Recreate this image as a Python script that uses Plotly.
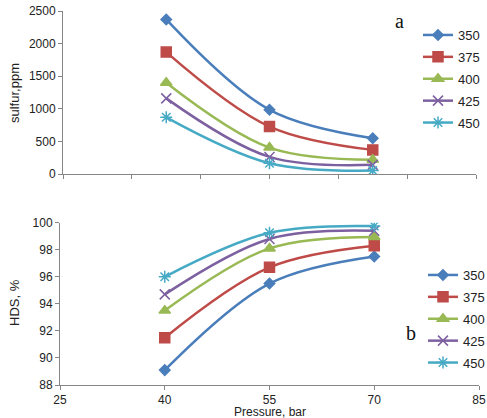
import plotly.graph_objects as go

pressure = [40, 55, 70]
temps = ["350", "375", "400", "425", "450"]
sulfur = {
    "350": [2370, 985, 550],
    "375": [1870, 728, 370],
    "400": [1400, 405, 218],
    "425": [1160, 262, 140],
    "450": [870, 166, 52],
}
hds = {
    "350": [89.1, 95.5, 97.5],
    "375": [91.5, 96.7, 98.3],
    "400": [93.5, 98.1, 98.95],
    "425": [94.7, 98.8, 99.4],
    "450": [96.0, 99.25, 99.75],
}
colors = ["#4A7EBB", "#BE4B48", "#98B954", "#7D60A0", "#46AAC5"]
symbols = ["diamond", "square", "triangle-up", "x-thin", "asterisk-open"]
msizes = [8, 10, 10, 10, 10]

fig = go.Figure()
for i, t in enumerate(temps):
    mk = dict(symbol=symbols[i], size=msizes[i], color=colors[i],
              line=dict(color=colors[i], width=1.5))
    fig.add_trace(go.Scatter(x=pressure, y=sulfur[t], name=t, mode="lines+markers",
                             line=dict(color=colors[i], width=2.5, shape="spline"),
                             marker=mk, xaxis="x", yaxis="y", legend="legend",
                             legendgroup="a" + t))
for i, t in enumerate(temps):
    mk = dict(symbol=symbols[i], size=msizes[i], color=colors[i],
              line=dict(color=colors[i], width=1.5))
    fig.add_trace(go.Scatter(x=pressure, y=hds[t], name=t, mode="lines+markers",
                             line=dict(color=colors[i], width=2.5, shape="spline"),
                             marker=mk, xaxis="x2", yaxis="y2", legend="legend2",
                             legendgroup="b" + t))

W, H = 487, 418
axcol = "#868686"
tickfont = dict(family="Liberation Sans, Arial", size=12, color="#222")
common = dict(ticks="outside", ticklen=4, tickcolor=axcol, showline=True, linecolor=axcol,
              showgrid=False, zeroline=False, automargin=False)
legfont = dict(family="Liberation Sans, Arial", size=13, color="#222")

fig.update_layout(
    template="none",
    width=W, height=H,
    margin=dict(l=0, r=0, t=0, b=0, autoexpand=False),
    paper_bgcolor="white", plot_bgcolor="white",
    xaxis=dict(domain=[63 / W, 476 / W], range=[25, 85], dtick=10, tick0=25,
               showticklabels=False, anchor="y", **common),
    yaxis=dict(domain=[1 - 174 / H, 1 - 11 / H], range=[0, 2500], dtick=500,
               tickfont=tickfont, anchor="x", **common),
    xaxis2=dict(domain=[60 / W, 479 / W], range=[25, 85], dtick=15, tick0=25,
                tickfont=tickfont, anchor="y2", ticklabelstandoff=0, **common),
    yaxis2=dict(domain=[1 - 385 / H, 1 - 222.7 / H], range=[88, 100], dtick=2,
                tickfont=tickfont, anchor="x2", **common),
    legend=dict(x=418 / W, y=1 - 20 / H, xanchor="left", yanchor="top",
                bgcolor="rgba(0,0,0,0)", font=legfont, tracegroupgap=2),
    legend2=dict(x=423 / W, y=1 - 260 / H, xanchor="left", yanchor="top",
                 bgcolor="rgba(0,0,0,0)", font=legfont, tracegroupgap=2),
    showlegend=True,
)

annfont = dict(family="Liberation Sans, Arial", size=13, color="#222")
ann = dict(xref="paper", yref="paper", showarrow=False, xanchor="center", yanchor="middle")
fig.add_annotation(text="sulfur,ppm", x=14 / W, y=1 - 93 / H, textangle=-90, font=annfont, **ann)
fig.add_annotation(text="HDS, %", x=14 / W, y=1 - 303 / H, textangle=-90, font=annfont, **ann)
fig.add_annotation(text="Pressure, bar", x=270 / W, y=1 - 411.5 / H,
                   font=dict(family="Liberation Sans, Arial", size=12, color="#222"), **ann)
serif = dict(family="Liberation Serif, Times New Roman", size=20, color="#111")
fig.add_annotation(text="a", x=399 / W, y=1 - 21 / H, font=serif, **ann)
fig.add_annotation(text="b", x=411 / W, y=1 - 333 / H, font=serif, **ann)

fig.write_html("out.html")
